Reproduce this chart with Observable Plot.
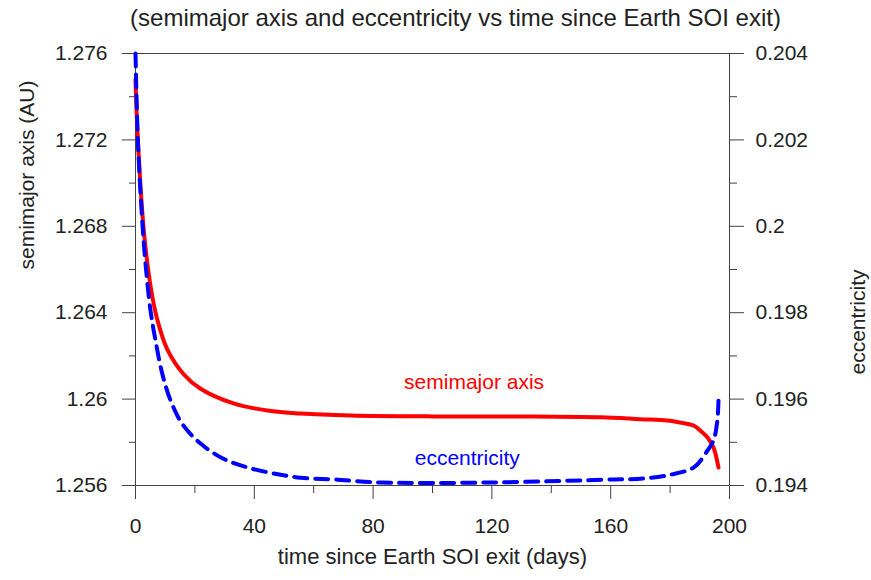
<!DOCTYPE html>
<html><head><meta charset="utf-8">
<script src="https://cdn.jsdelivr.net/npm/d3@7"></script>
<script src="https://cdn.jsdelivr.net/npm/@observablehq/plot@0.6"></script>
<style>
body{margin:0;background:#fff;font-family:"Liberation Sans",Arial,sans-serif;}
#title{height:36px;line-height:36px;font-size:24px;color:#222;text-align:center;padding-left:40px;width:831px;white-space:nowrap}
</style></head><body>
<div id="title">(semimajor axis and eccentricity vs time since Earth SOI exit)</div>
<div id="chart"></div>
<script>
const smaDays   = [0, 0.8, 2.8, 5.1, 7.3, 10.7, 16.2, 21.9, 33, 44.4, 55.6, 72.4, 100, 130, 156.6, 170, 179, 184, 187.9, 190.5, 192.6, 194.6, 196.3];
const smaValues = [1.2748, 1.2720, 1.2678, 1.2652, 1.2637, 1.2623, 1.26115, 1.26048, 1.2598, 1.25947, 1.25933, 1.25924, 1.2592, 1.2592, 1.25916, 1.25907, 1.25901, 1.2589, 1.25878, 1.2585, 1.25822, 1.25776, 1.25683];
const eccDays   = [0, 0.8, 2.26, 3.37, 5.05, 6.73, 9.0, 11.8, 15.7, 21.9, 29.6, 37.6, 46.5, 55.6, 66.7, 82.5, 120, 161, 171, 180, 188, 192.6, 194.6, 195.9, 196.3];
const eccValues = [0.204, 0.20199, 0.20013, 0.19914, 0.19805, 0.19736, 0.19659, 0.19597, 0.19543, 0.19497, 0.19462, 0.19442, 0.19428, 0.19418, 0.19414, 0.19407, 0.19407, 0.19414, 0.19416, 0.19425, 0.19442, 0.19481, 0.19504, 0.1955, 0.19601];

const xTicks = [0, 40, 80, 120, 160, 200];
const xMinorTicks = [20, 60, 100, 140, 180];
const smaTicks = [1.256, 1.26, 1.264, 1.268, 1.272, 1.276];
const smaMinorTicks = [1.258, 1.262, 1.266, 1.270, 1.274];
const eccTicks = [0.194, 0.196, 0.198, 0.2, 0.202, 0.204];
const eccMinorTicks = [0.195, 0.197, 0.199, 0.201, 0.203];

const labels = [
  {text: "semimajor axis", day: 114, sma: 1.2608, color: "#ff0000"},
  {text: "eccentricity", day: 111.7, sma: 1.25725, color: "#0000ff"}
];

// eccentricity axis mapped onto semimajor axis scale
const eccToSma = e => 1.256 + (e - 0.194) * 2;
const smaToEcc = a => 0.194 + (a - 1.256) / 2;
const fmt = v => String(+v.toFixed(3));

const sma = smaDays.map((d, i) => ({day: d, v: smaValues[i]}));
const ecc = eccDays.map((d, i) => ({day: d, v: eccValues[i]}));

const FS = 21;
const AX = "#444";

const chart = Plot.plot({
  width: 871,
  height: 544,
  marginLeft: 135,
  marginRight: 142,
  marginTop: 17,
  marginBottom: 95,
  style: {fontFamily: "'Liberation Sans', Arial, sans-serif", color: "#222", background: "#fff", overflow: "visible"},
  x: {domain: [0, 200], axis: null},
  y: {domain: [1.256, 1.276], axis: null},
  marks: [
    Plot.frame({stroke: AX}),
    Plot.axisX(xTicks, {anchor: "bottom", tickSize: 14, tickPadding: 19, fontSize: FS, stroke: AX, tickFormat: d => String(d), label: null}),
    Plot.axisX(xMinorTicks, {anchor: "bottom", tickSize: 8, stroke: AX, tickFormat: () => "", label: null}),
    Plot.axisY(smaTicks, {anchor: "left", tickSize: 13, tickPadding: 15, fontSize: FS, stroke: AX, tickFormat: fmt, label: null}),
    Plot.axisY(smaMinorTicks, {anchor: "left", tickSize: 6, stroke: AX, tickFormat: () => "", label: null}),
    Plot.axisY(eccTicks.map(eccToSma), {anchor: "right", tickSize: 14, tickPadding: 12, fontSize: FS, stroke: AX, tickFormat: a => fmt(smaToEcc(a)), label: null}),
    Plot.axisY(eccMinorTicks.map(eccToSma), {anchor: "right", tickSize: 7, stroke: AX, tickFormat: () => "", label: null}),
    Plot.line(sma, {x: "day", y: "v", stroke: "#ff0000", strokeWidth: 4, curve: "catmull-rom"}),
    Plot.line(ecc, {x: "day", y: d => eccToSma(d.v), stroke: "#0000ff", strokeWidth: 4, strokeDasharray: "13,8", curve: "catmull-rom"}),
    Plot.text(labels, {x: "day", y: "sma", text: "text", fill: "color", fontSize: FS}),
    Plot.text(["semimajor axis (AU)"], {frameAnchor: "left", dx: -108, rotate: -90, fontSize: FS, fill: "#222"}),
    Plot.text(["eccentricity"], {frameAnchor: "right", dx: 129, rotate: -90, fontSize: FS, fill: "#222"}),
    Plot.text(["time since Earth SOI exit (days)"], {frameAnchor: "bottom", dy: 78, fontSize: 22, fill: "#222"})
  ]
});
document.getElementById("chart").appendChild(chart);
</script>
</body></html>
